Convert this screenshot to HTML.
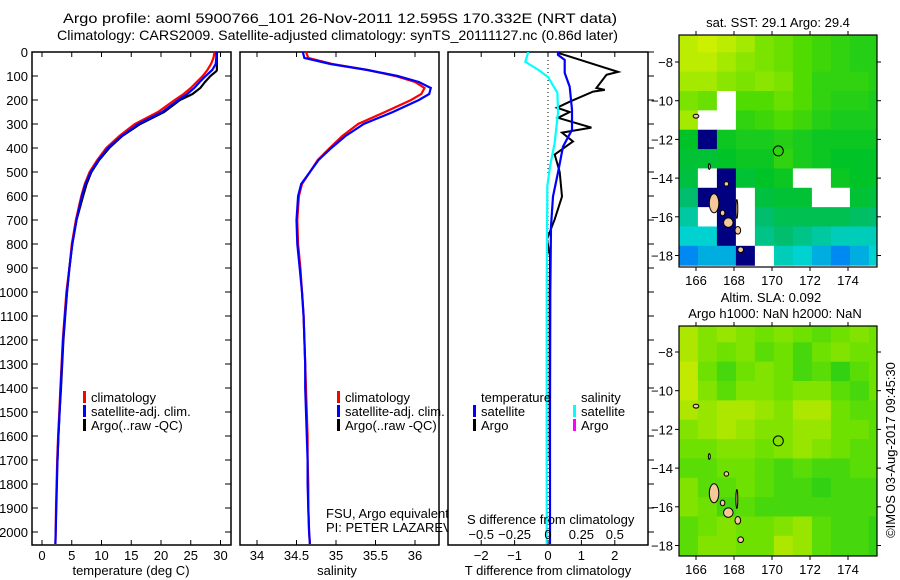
<!DOCTYPE html>
<html><head><meta charset="utf-8"><style>
html,body{margin:0;padding:0;background:#fff;}
svg{display:block;font-family:"Liberation Sans",sans-serif;}
text{font-size:13px;fill:#000;}
</style></head><body>
<svg id="root" width="900" height="580" viewBox="0 0 900 580">
<text x="63" y="23" style="font-size:14px" textLength="554" lengthAdjust="spacingAndGlyphs">Argo profile: aoml 5900766_101 26-Nov-2011 12.595S 170.332E (NRT data)</text>
<text x="57" y="40" style="font-size:14px" textLength="561" lengthAdjust="spacingAndGlyphs">Climatology: CARS2009. Satellite-adjusted climatology: synTS_20111127.nc (0.86d later)</text>
<g id="g1"></g>
<g id="g2"></g>
<g id="g3"></g>
<g id="m1"></g>
<g id="m2"></g>
<text transform="translate(895,450) rotate(-90)" text-anchor="middle">©IMOS 03-Aug-2017 09:45:30</text>
</svg>
<script>
const depths=[0,25,50,75,100,125,150,175,200,250,300,350,400,450,500,550,600,700,800,900,1000,1100,1200,1300,1400,1500,1600,1700,1800,1900,2000,2050];
const tClim=[29.0,28.8,28.4,27.8,27,26,25,23.8,22.3,19.5,15.6,13,10.8,9.3,8.0,7.2,6.6,5.7,5.0,4.6,4.1,3.8,3.5,3.3,3.1,2.9,2.7,2.55,2.45,2.35,2.3,2.25];
const tSat=[29.3,29.3,29.2,28.6,27.5,26.5,25.6,24.4,22.9,20.2,16.2,13.4,11.1,9.5,8.2,7.3,6.7,5.8,5.1,4.6,4.2,3.85,3.55,3.35,3.15,2.95,2.75,2.6,2.5,2.4,2.3,2.25];
const argoDepths=[0,25,50,75,80,100,125,150,175,200,250,300,350,400,450,500,550,600,700,800,900,1000,1100,1200,1300,1400,1500,1600,1700];
const tArgo=[29.4,29.4,29.4,29.4,29.3,28.3,27.4,26.6,25.3,23.2,20.5,16.5,13.5,11.3,9.6,8.3,7.5,6.9,5.8,5.1,4.6,4.2,3.9,3.6,3.4,3.2,2.95,2.75,2.6];
const sClim=[34.62,34.65,34.95,35.4,35.75,36.0,36.12,36.08,35.95,35.62,35.28,35.08,34.92,34.77,34.67,34.57,34.53,34.51,34.52,34.55,34.57,34.59,34.6,34.61,34.62,34.63,34.64,34.64,34.65,34.65,34.66,34.67];
const sSat=[34.58,34.6,34.93,35.4,35.78,36.05,36.2,36.18,36.05,35.72,35.35,35.12,34.94,34.78,34.67,34.56,34.52,34.5,34.51,34.54,34.57,34.59,34.6,34.61,34.61,34.62,34.63,34.64,34.64,34.65,34.66,34.67];
const dTSatDepths=[0,12,33,87,145,241,324,394,502,602,726,1000,1500,2050];
const dTSat=[0.3,0.3,0.5,0.5,0.65,0.72,0.72,0.45,0.3,0.15,0.09,0.07,0.06,0.06];
const dTArgoDepths=[0,4,10,83,95,150,158,165,207,232,250,274,315,336,373,427,500,602,697,780,851,1000,1400,1700];
const dTArgo=[0.3,0.3,0.45,2.1,1.75,1.45,1.7,1.35,0.65,0.27,0.65,0.3,1.3,0.42,0.75,0.2,0.35,0.42,0.2,-0.03,0.06,0.05,0.05,0.05];
const dSSatDepths=[0,4,41,75,104,170,253,378,477,560,1000,2050];
const dSSat=[-0.15,-0.15,-0.17,-0.07,0,0.07,0.075,0.05,0.015,-0.005,-0.01,-0.01];
const tTicks=[0,5,10,15,20,25,30];
const sTicks=[34,34.5,35,35.5,36];
const sTickLabels=["34","34.5","35","35.5","36"];
const dTTicks=[-2,-1,0,1,2];
const dSTicks=[-0.5,-0.25,0,0.25,0.5];
const dSTickLabels=["\u22120.5","\u22120.25","0","0.25","0.5"];
const depthTicks=[0,100,200,300,400,500,600,700,800,900,1000,1100,1200,1300,1400,1500,1600,1700,1800,1900,2000];

const NS="http://www.w3.org/2000/svg";
function mk(parent,tag,attrs,txt){const e=document.createElementNS(NS,tag);for(const k in attrs)e.setAttribute(k,attrs[k]);if(txt!==undefined)e.textContent=txt;parent.appendChild(e);return e;}
const yD=d=>52+d*0.24;
const xT=t=>42+t*5.95;
const xS=s=>257+(s-34)*79;
const xDT=v=>548+v*33.4;
const xDS=v=>548+v*133.6;

function frame(g,x0,x1,name){
  const r=mk(g,'rect',{x:x0,y:52,width:x1-x0,height:493,fill:'none',stroke:'#000','stroke-width':1.5});
  
  
}
function line(g,xs,ds,fx,color,w,name){
  const pts=xs.map((v,i)=>fx(v).toFixed(1)+','+yD(ds[i]).toFixed(1)).join(' ');
  const p=mk(g,'polyline',{points:pts,fill:'none',stroke:color,'stroke-width':w,'stroke-linejoin':'miter'});
  
  
}
function legend(g,x,y,color,label,name){
  const r=mk(g,'rect',{x:x,y:y-11,width:3,height:12,fill:color});
  
  
  const t=mk(g,'text',{x:x+8,y:y},label);
  
  
}
// panel 1
const g1=document.getElementById('g1');
frame(g1,32,231,'temperature-axes');
depthTicks.forEach(d=>{
  mk(g1,'line',{x1:32,y1:yD(d),x2:38,y2:yD(d),stroke:'#000'});
  mk(g1,'line',{x1:225,y1:yD(d),x2:231,y2:yD(d),stroke:'#000'});
  const t=mk(g1,'text',{x:28,y:yD(d)+5,'text-anchor':'end'},String(d));
  
  
});
tTicks.forEach(v=>{
  mk(g1,'line',{x1:xT(v),y1:52,x2:xT(v),y2:57,stroke:'#000'});
  mk(g1,'line',{x1:xT(v),y1:540,x2:xT(v),y2:545,stroke:'#000'});
  const t=mk(g1,'text',{x:xT(v),y:560,'text-anchor':'middle'},String(v));
  
  
});
mk(g1,'text',{x:131,y:575,'text-anchor':'middle',},'temperature (deg C)');
line(g1,tArgo,argoDepths,xT,'#000',2.2,'argo-temperature-line');
line(g1,tClim,depths,xT,'#f00',2.2,'climatology-temperature-line');
line(g1,tSat,depths,xT,'#00f',2.2,'satellite-temperature-line');
legend(g1,83,402,'#f00','climatology','legend-climatology');
legend(g1,83,416,'#00f','satellite-adj. clim.','legend-satellite');
legend(g1,83,430,'#000','Argo(..raw -QC)','legend-argo');
// panel 2
const g2=document.getElementById('g2');
frame(g2,240,439,'salinity-axes');
sTicks.forEach((v,i)=>{
  mk(g2,'line',{x1:xS(v),y1:52,x2:xS(v),y2:57,stroke:'#000'});
  mk(g2,'line',{x1:xS(v),y1:540,x2:xS(v),y2:545,stroke:'#000'});
  const t=mk(g2,'text',{x:xS(v),y:560,'text-anchor':'middle'},sTickLabels[i]);
  
  
});
mk(g2,'text',{x:337,y:575,'text-anchor':'middle',},'salinity');
line(g2,sClim,depths,xS,'#f00',2.2,'climatology-salinity-line');
line(g2,sSat,depths,xS,'#00f',2.2,'satellite-salinity-line');
legend(g2,337,402,'#f00','climatology','legend-climatology-s');
legend(g2,337,416,'#00f','satellite-adj. clim.','legend-satellite-s');
legend(g2,337,430,'#000','Argo(..raw -QC)','legend-argo-s');
mk(g2,'text',{x:326,y:518,},'FSU, Argo equivalent');
mk(g2,'text',{x:326,y:532,},'PI: PETER LAZAREVICH');
// panel 3
const g3=document.getElementById('g3');
mk(g3,'rect',{x:448,y:52,width:200,height:493,fill:'#fff',stroke:'none'});
frame(g3,448,648,'difference-axes');
depthTicks.forEach(d=>{mk(g3,'line',{x1:648,y1:yD(d),x2:654,y2:yD(d),stroke:'#000'});});
dTTicks.forEach(v=>{
  mk(g3,'line',{x1:xDT(v),y1:52,x2:xDT(v),y2:57,stroke:'#000'});
  mk(g3,'line',{x1:xDT(v),y1:540,x2:xDT(v),y2:545,stroke:'#000'});
  const t=mk(g3,'text',{x:xDT(v),y:560,'text-anchor':'middle'},v<0?'\u2212'+(-v):String(v));
  
  
});
mk(g3,'line',{x1:548,y1:52,x2:548,y2:545,stroke:'#000','stroke-dasharray':'1,3',});
line(g3,dTArgo,dTArgoDepths,xDT,'#000',2,'argo-t-diff-line');
line(g3,dSSat,dSSatDepths,xDS,'#0ff',2.2,'satellite-s-diff-line');
line(g3,dTSat,dTSatDepths,xDT,'#00f',2.2,'satellite-t-diff-line');
mk(g3,'text',{x:481,y:402,},'temperature');
mk(g3,'text',{x:581,y:402,},'salinity');
legend(g3,473,416,'#00f','satellite','legend-t-satellite');
legend(g3,473,430,'#000','Argo','legend-t-argo');
legend(g3,573,416,'#0ff','satellite','legend-s-satellite');
legend(g3,573,430,'#f0f','Argo','legend-s-argo');
mk(g3,'text',{x:467,y:524,},'S difference from climatology');
dSTicks.forEach((v,i)=>{
  const t=mk(g3,'text',{x:xDS(v),y:539,'text-anchor':'middle'},dSTickLabels[i]);
  
  
});
mk(g3,'text',{x:548,y:575,'text-anchor':'middle',},'T difference from climatology');

// maps
const W=-1,N=-2;
const sstGrid=[
[.88,.9,.88,.85,.8,.78,.75,.72,.7,.68,.68],
[.88,.88,.85,.82,.8,.78,.75,.72,.7,.68,.68],
[.85,.85,.82,.8,.82,.8,.75,.7,.7,.7,.68],
[.8,.78,W,.75,.75,.78,.75,.7,.68,.68,.66],
[.85,W,W,.7,.72,.75,.72,.68,.66,.66,.66],
[.62,N,.64,.66,.66,.68,.66,.64,.64,.64,.64],
[.6,.6,.62,.64,.64,.7,.66,.64,.62,.62,.62],
[.58,W,N,.6,.62,.64,W,W,.64,.62,.62],
[.5,N,N,W,.58,.6,.6,W,W,.6,.58],
[.4,W,N,W,.5,.55,.55,.55,.55,.52,.5],
[.3,.3,N,W,.45,.5,.45,.4,.35,.35,.35],
[.2,.25,.25,N,W,.35,.3,.25,.2,.25,.3]];
const slaGrid=[
[.8,.6,.7,.6,.5,.6,.5,.4,.5,.6,.5],
[.8,.6,.5,.6,.4,.5,.3,.5,.6,.5,.5],
[.9,.5,.3,.5,.6,.5,.3,.4,.2,.4,.5],
[.9,.6,.4,.6,.6,.5,.6,.6,.4,.3,.5],
[.8,.7,.8,.8,.7,.6,.8,.8,.5,.4,.4],
[.6,.7,.8,.7,.6,.6,.7,.7,.5,.5,.4],
[.5,.5,.6,.6,.5,.6,.7,.6,.5,.4,.4],
[.4,.4,.5,.5,.4,.3,.4,.3,.3,.4,.4],
[.6,.4,.4,.5,.4,.3,.3,.2,.3,.3,.3],
[.6,.5,.3,.4,.3,.3,.3,.3,.3,.3,.3],
[.4,.5,.6,.5,.5,.6,.7,.4,.3,.3,.2],
[.4,.6,.6,.5,.5,.8,.7,.4,.3,.3,.2]];
const lonTicks=[166,168,170,172,174];
const latTicks=[-8,-10,-12,-14,-16,-18];
const argoLon=170.332, argoLat=-12.595;
const islands=[[166.95,-15.3,0.25,0.5],[167.7,-16.3,0.25,0.25],[167.4,-15.8,0.12,0.15],[168.2,-16.7,0.15,0.2],[168.35,-17.7,0.15,0.15],[167.6,-14.3,0.12,0.12],[168.15,-15.6,0.05,0.5],[166.7,-13.4,0.05,0.15],[166.0,-10.8,0.15,0.1]];
const sstStops=[[0.15,[0,100,255]],[0.3,[0,210,210]],[0.5,[0,190,110]],[0.62,[0,195,40]],[0.75,[80,220,0]],[0.9,[205,240,0]]];
const slaStops=[[0,[10,200,30]],[0.5,[110,225,0]],[1,[215,235,0]]];
function cmap(stops,v){
  if(v<=stops[0][0])return 'rgb('+stops[0][1]+')';
  for(let i=1;i<stops.length;i++){if(v<=stops[i][0]){const a=stops[i-1],b=stops[i],f=(v-a[0])/(b[0]-a[0]);return 'rgb('+a[1].map((c,k)=>Math.round(c+(b[1][k]-c)*f)).join(',')+')';}}
  return 'rgb('+stops[stops.length-1][1]+')';
}
function drawMap(id,y0,y1,latAt8,grid,stops,name){
  const g=document.getElementById(id);
  const x0=679,x1=877;
  const lx=lon=>696+(lon-166)*19;
  const ly=lat=>latAt8+(-8-lat)*19.35;
  const clip=mk(g,'clipPath',{id:id+'c'});mk(clip,'rect',{x:x0,y:y0,width:x1-x0,height:y1-y0});
  const cg=mk(g,'g',{'clip-path':'url(#'+id+'c)'});
  mk(cg,'rect',{x:x0,y:y0,width:x1-x0,height:y1-y0,fill:'#fff'});
  grid.forEach((row,r)=>row.forEach((v,c)=>{
    const lon=165.1+c, lat=-6.5-r;
    const fill=v===W?'#fff':v===N?'#000080':cmap(stops,v);
    const rc=mk(cg,'rect',{x:lx(lon),y:ly(lat),width:19.5,height:19.9,fill:fill});
    
    
  }));
  islands.forEach(s=>{
    const e=mk(cg,'ellipse',{cx:lx(s[0]),cy:ly(s[1]),rx:s[2]*19,ry:s[3]*19,fill:'#f5c89a',stroke:'#000','stroke-width':1});
    
    
  });
  const ci=mk(g,'circle',{cx:lx(argoLon),cy:ly(argoLat),r:5,fill:'none',stroke:'#000','stroke-width':1});
  
  
  mk(g,'rect',{x:x0,y:y0,width:x1-x0,height:y1-y0,fill:'none',stroke:'#000','stroke-width':1.2});
  lonTicks.forEach(l=>{
    mk(g,'line',{x1:lx(l),y1:y0-4,x2:lx(l),y2:y0,stroke:'#000'});
    mk(g,'line',{x1:lx(l),y1:y1,x2:lx(l),y2:y1+4,stroke:'#000'});
    const t=mk(g,'text',{x:lx(l),y:y1+18,'text-anchor':'middle'},String(l));
    
    
  });
  latTicks.forEach(l=>{
    mk(g,'line',{x1:x0-4,y1:ly(l),x2:x0,y2:ly(l),stroke:'#000'});
    mk(g,'line',{x1:x1,y1:ly(l),x2:x1+4,y2:ly(l),stroke:'#000'});
    const t=mk(g,'text',{x:673,y:ly(l)+5,'text-anchor':'end'},'\u2212'+(-l));
    
    
  });
}
drawMap('m1',35,267,62,sstGrid,sstStops,'sst');
drawMap('m2',326,556,352,slaGrid,slaStops,'sla');
const m1=document.getElementById('m1'), m2=document.getElementById('m2');
mk(m1,'text',{x:778,y:27,'text-anchor':'middle',},'sat. SST: 29.1 Argo: 29.4');
mk(m2,'text',{x:771,y:302,'text-anchor':'middle',},'Altim. SLA: 0.092');
mk(m2,'text',{x:775,y:318,'text-anchor':'middle',},'Argo h1000: NaN h2000: NaN');
</script>
</body></html>
